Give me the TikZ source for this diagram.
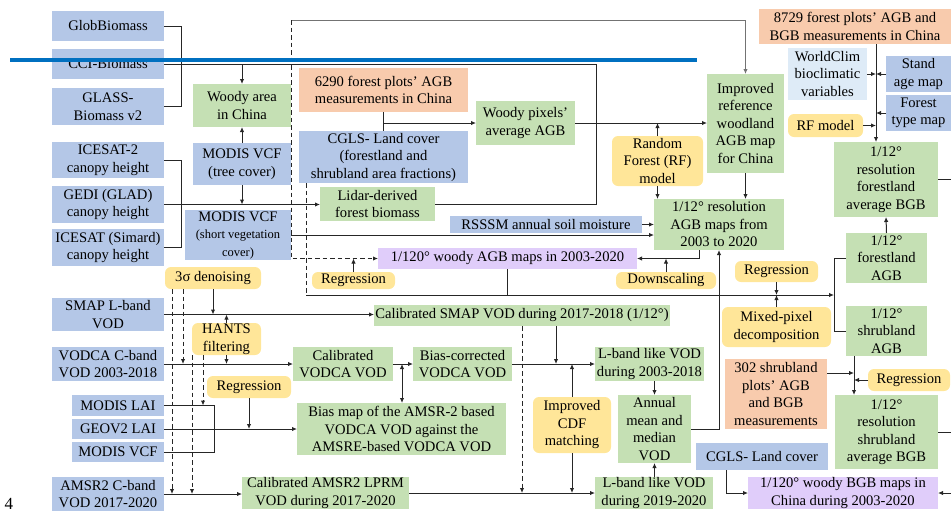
\documentclass[tikz,border=0pt]{standalone}
\usepackage{fontspec}
\setmainfont{Liberation Serif}
\usetikzlibrary{arrows.meta}
\definecolor{cblue}{HTML}{B4C7E7}
\definecolor{cgreen}{HTML}{C5E0B4}
\definecolor{corange}{HTML}{F8CBAD}
\definecolor{cyellow}{HTML}{FFE699}
\definecolor{cpurple}{HTML}{E0CDFA}
\definecolor{clight}{HTML}{DEEBF7}
\definecolor{annot}{RGB}{0,112,192}
\newcommand{\smallf}{\fontsize{12.5}{15.5}\selectfont}
\newcommand{\mybox}[7]{\node[#1, minimum width={#5pt-#3pt}, minimum height={#6pt-#4pt}] (#2) at ({(#3+#5)/2},{(#4+#6)/2}) {#7};}
\begin{document}
\begin{tikzpicture}[x=1pt,y=-1pt,
  font=\fontsize{14.6}{17.5}\selectfont,
  base/.style={inner xsep=1pt, inner ysep=0pt, align=center, outer sep=0pt, text=black},
  bl/.style={base, fill=cblue},
  gr/.style={base, fill=cgreen},
  orb/.style={base, fill=corange},
  ye/.style={base, fill=cyellow, rounded corners=6pt},
  pu/.style={base, fill=cpurple},
  lb/.style={base, fill=clight},
  ln/.style={draw=black!85, line width=1pt},
  ar/.style={ln, -{Latex[length=5pt,width=4.5pt]}},
  dsh/.style={dash pattern=on 4.5pt off 3pt}
]
\useasboundingbox (0,0) rectangle (951,520);

% ---------- left column ----------
\mybox{bl}{glob}{52}{11}{164}{41}{GlobBiomass}
\mybox{bl}{cci}{52}{49}{164}{79}{CCI-Biomass}
\mybox{bl}{glass}{52}{88}{164}{125}{GLASS-\\Biomass v2}
\mybox{bl}{ice2}{52}{142}{164}{178}{ICESAT-2\\canopy height}
\mybox{bl}{gedi}{52}{186}{164}{223}{GEDI (GLAD)\\canopy height}
\mybox{bl}{simard}{52}{229}{164}{266}{ICESAT (Simard)\\canopy height}
\mybox{bl}{smap}{52}{298}{164}{331}{SMAP L-band\\VOD}
\mybox{bl}{vodca}{52}{347}{164}{381}{VODCA C-band\\VOD 2003-2018}
\mybox{bl}{mlai}{72}{395}{164}{416}{MODIS LAI}
\mybox{bl}{geov}{72}{419}{164}{439}{GEOV2 LAI}
\mybox{bl}{mvcf}{72}{442}{164}{462}{MODIS VCF}
\mybox{bl}{amsr}{52}{477}{164}{511}{AMSR2 C-band\\VOD 2017-2020}

% ---------- upper middle ----------
\mybox{gr}{woody}{193}{84}{291}{127}{Woody area\\in China}
\mybox{bl}{vcft}{193}{143}{291}{185}{MODIS VCF\\(tree cover)}
\mybox{bl}{vcfs}{185}{210}{291}{260}{MODIS VCF\\{\smallf (short vegetation}\\{\smallf cover)}}
\mybox{orb}{p6290}{299}{68}{468}{112}{6290 forest plots’ AGB\\measurements in China}
\mybox{bl}{cgls}{299}{131}{468}{183}{CGLS- Land cover\\(forestland and\\shrubland area fractions)}
\mybox{gr}{wpix}{476}{101}{575}{145}{Woody pixels’\\average AGB}
\mybox{gr}{lidar}{320}{187}{435}{221}{Lidar-derived\\forest biomass}
\mybox{bl}{rsssm}{450}{216}{642}{233}{RSSSM annual soil moisture}
\mybox{pu}{agb120}{378}{248}{637}{269}{1/120° woody AGB maps in 2003-2020}
\mybox{ye}{reg1}{312}{272}{395}{289}{Regression}
\mybox{ye}{down}{616}{272}{716}{289}{Downscaling}
\mybox{ye}{rf}{612}{136}{703}{186}{Random\\Forest (RF)\\model}
\mybox{gr}{impr}{707}{74}{784}{173}{Improved\\reference\\woodland\\AGB map\\for China}
\mybox{gr}{agb12}{654}{199}{784}{250}{1/12° resolution\\AGB maps from\\2003 to 2020}

% ---------- right ----------
\mybox{orb}{p8729}{759}{9}{951}{44}{8729 forest plots’ AGB and\\BGB measurements in China}
\mybox{lb}{wc}{788}{48}{867}{100}{WorldClim\\bioclimatic\\variables}
\mybox{bl}{stand}{886}{56}{951}{92}{Stand\\age map}
\mybox{bl}{ftype}{886}{95}{951}{131}{Forest\\type map}
\mybox{ye}{rfm}{788}{114}{863}{137}{RF model}
\mybox{gr}{fbgb}{834}{142}{938}{217}{1/12°\\resolution\\forestland\\average BGB}
\mybox{gr}{fagb}{846}{233}{927}{283}{1/12°\\forestland\\AGB}
\mybox{gr}{sagb}{846}{306}{927}{356}{1/12°\\shrubland\\AGB}
\mybox{ye}{reg2}{735}{261}{818}{282}{Regression}
\mybox{ye}{mixed}{722}{307}{831}{347}{Mixed-pixel\\decomposition}
\mybox{orb}{p302}{725}{359}{827}{429}{302 shrubland\\plots’ AGB\\and BGB\\measurements}
\mybox{ye}{reg3}{868}{369}{950}{391}{Regression}
\mybox{gr}{sbgb}{835}{395}{938}{469}{1/12°\\resolution\\shrubland\\average BGB}
\mybox{bl}{cgls2}{696}{443}{828}{470}{CGLS- Land cover}
\mybox{pu}{bgb120}{748}{477}{938}{509}{1/120° woody BGB maps in\\China during 2003-2020}

% ---------- VOD part ----------
\mybox{ye}{sig}{165}{267}{261}{289}{3σ denoising}
\mybox{ye}{hants}{192}{323}{261}{355}{HANTS\\filtering}
\mybox{gr}{calsmap}{374}{305}{670}{326}{Calibrated SMAP VOD during 2017-2018 (1/12°)}
\mybox{gr}{calvodca}{293}{347}{393}{381}{Calibrated\\VODCA VOD}
\mybox{gr}{biasc}{413}{347}{512}{381}{Bias-corrected\\VODCA VOD}
\mybox{gr}{biasmap}{297}{403}{506}{455}{Bias map of the AMSR-2 based\\VODCA VOD against the\\AMSRE-based VODCA VOD}
\mybox{ye}{reg4}{207}{376}{291}{398}{Regression}
\mybox{ye}{cdf}{533}{397}{611}{453}{Improved\\CDF\\matching}
\mybox{gr}{lb03}{595}{347}{704}{381}{L-band like VOD\\during 2003-2018}
\mybox{gr}{annual}{618}{395}{691}{463}{Annual\\mean and\\median\\VOD}
\mybox{gr}{lb19}{595}{477}{713}{509}{L-band like VOD\\during 2019-2020}
\mybox{gr}{lprm}{242}{477}{409}{509}{Calibrated AMSR2 LPRM\\VOD during 2017-2020}

\node[font=\fontsize{17}{20}\selectfont, inner sep=0pt] (pg) at (9,504) {4};

% ---------- connectors: upper part ----------
\draw[ln] (glob.east) -- ++(17,0) |- (glass.east);
\coordinate (jR) at (596,64);
\draw[ln] (cci.east) -- (jR) |- (lidar.east);
\draw[ar] (woody.north |- cci.east) -- (woody.north);
\draw[ln] (ice2.east) -- ++(17,0) |- (simard.east);
\draw[ar] (gedi.east) -- (gedi.east -| lidar.west);
\draw[ar] (vcft.south) -- (vcft.south |- gedi.east);
\draw[ar] (vcft.north) -- (woody.south);
\draw[ar] (vcfs.east) -- (vcfs.east -| agb12.west);
\draw[ar] (rsssm.east) -- (rsssm.east -| agb12.west);

\coordinate (tl) at (291,20);
\draw[ar, draw=black!55] (tl) -| (impr.north);
\draw[ar, dsh] (tl) -- (tl |- agb120.west) -- (agb120.west);
\draw[ar] (reg1.north) -- (reg1.north |- agb120.west);

\coordinate (jB) at (306,295);
\coordinate (brk) at (834,295);
\draw[ln, dsh] (cgls.south -| jB) -- (jB);
\draw[ar] (jB) -- (brk);
\draw[ln] (agb120.south) -- (agb120.south |- jB);
\draw[ln] (fagb.west) -- (fagb.west -| brk) |- (sagb.west);
\draw[ar] (reg2.south) -- (reg2.south |- jB);
\draw[ar] (mixed.north) -- (mixed.north |- jB);
\draw[ar] (annual.east) -| (agb12.south);
\draw[ar] ([xshift=-20pt]agb12.south) |- (agb120.east);
\draw[ar] (down.north) -- (down.north |- agb120.east);

\draw[ln] (p6290.south) -- (cgls.north);
\draw[ar] (p6290.south |- wpix.west) -- (wpix.west);
\draw[ar] (wpix.east) -- (wpix.east -| impr.west);
\draw[ar] (rf.north) -- (rf.north |- wpix.east);
\draw[ar] (rf.south) -- (rf.south |- agb12.north);
\draw[ar] (impr.south) -- (impr.south |- agb12.north);

% ---------- right part ----------
\coordinate (vR) at (876,0);
\draw[ar] (p8729.south -| vR) -- (fbgb.north -| vR);
\draw[ar] (wc.east) -- (wc.east -| vR);
\draw[ar] (stand.west) -- (stand.west -| vR);
\draw[ar] (ftype.west) -- (ftype.west -| vR);
\draw[ar] (rfm.east) -- (rfm.east -| vR);
\draw[ln] (fbgb.east) -- ++(13,0);
\draw[ar] (fagb.north) -- (fbgb.south);
\coordinate (vS) at (854,0);
\draw[ar] (sagb.south -| vS) -- (sbgb.north -| vS);
\draw[ar] ([yshift=21pt]p302.east) -- ([yshift=21pt]p302.east -| vS);
\draw[ar] (reg3.west) -- (reg3.west -| vS);
\draw[ln] (sbgb.east) -- ++(13,0);
\draw[ar] ([xshift=30pt]cgls2.south west) |- (bgb120.west);
\coordinate (redge) at (951,493);
\draw[ar] (redge) -- (bgb120.east);

% ---------- VOD connectors ----------
\draw[ar] (smap.east) -- (smap.east -| calsmap.west);
\draw[ar] (sig.south) -- (sig.south |- smap.east);
\draw[ar] (hants.north) -- (hants.north |- smap.east);
\draw[ar] (hants.south) -- (hants.south |- vodca.east);
\draw[ar, dsh] ([xshift=7pt]sig.south west) -- ([xshift=7pt]sig.south west |- amsr.east);
\draw[ar, dsh] ([xshift=18pt]sig.south west) -- ([xshift=18pt]sig.south west |- vodca.east);
\draw[ar, dsh] (hants.south west) -- (hants.south west |- amsr.east);
\draw[ar, dsh] ([xshift=11pt]hants.south west) -- ([xshift=11pt]hants.south west |- mlai.east);
\draw[ar] (vodca.east) -- (calvodca.west);
\draw[ar] (calvodca.east) -- (biasc.west);
\draw[ln, {Latex[length=5pt,width=4.5pt]}-{Latex[length=5pt,width=4.5pt]}] ([xshift=9pt]calvodca.east) -- ([xshift=9pt]calvodca.east |- biasmap.north);
\draw[ln] (mlai.east) -- ++(50,0) |- (mvcf.east);
\draw[ar] (geov.east) -- (geov.east -| biasmap.west);
\draw[ar] (reg4.south) -- (reg4.south |- geov.east);
\draw[ar] (amsr.east) -- (amsr.east -| lprm.west);
\draw[ar] (lprm.east) -- (lprm.east -| lb19.west);
\draw[ar, dsh] ([xshift=148pt]calsmap.south west) -- ([xshift=148pt]calsmap.south west |- lprm.east);
\draw[ar] ([xshift=182pt]calsmap.south west) -- ([xshift=182pt]calsmap.south west |- biasc.east);
\draw[ar] (biasc.east) -- (biasc.east -| lb03.west);
\draw[ar] (cdf.north) -- (cdf.north |- biasc.east);
\draw[ar] (cdf.south) -- (cdf.south |- lprm.east);
\draw[ar] (annual.north |- lb03.south) -- (annual.north);
\draw[ar] (annual.south |- lb19.north) -- (annual.south);

% ---------- annotation line ----------
\coordinate (bl1) at (10,60);
\coordinate (bl2) at (697,60);
\draw[line width=3.5pt, annot] (bl1) -- (bl2);
\end{tikzpicture}
\end{document}
